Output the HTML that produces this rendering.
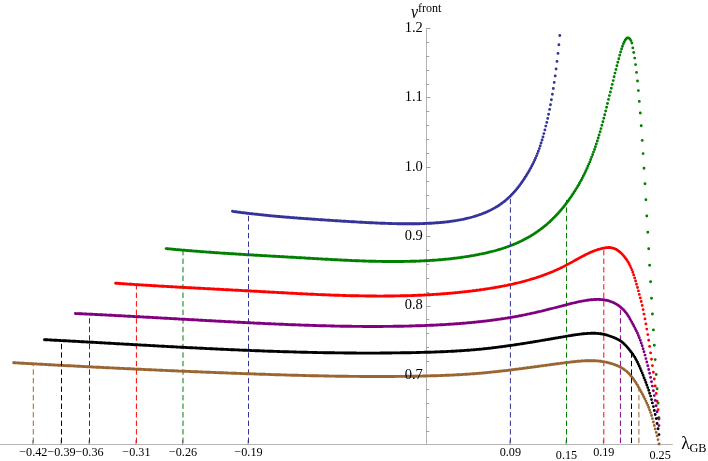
<!DOCTYPE html>
<html><head><meta charset="utf-8"><title>plot</title>
<style>
html,body{margin:0;padding:0;background:#fff;}
body{width:708px;height:461px;position:relative;overflow:hidden;font-family:"Liberation Serif",serif;color:#000;}
.t{position:absolute;white-space:nowrap;line-height:1;font-family:"Liberation Serif",serif;}
</style></head><body>
<svg width="708" height="461" viewBox="0 0 708 461" style="position:absolute;left:0;top:0">
<g stroke="#b4b4b4" stroke-width="1" fill="none" shape-rendering="auto">
<path d="M0 444.5H672.8"/>
<path d="M426.5 28V444.5"/>
<path d="M426 431.5h3.1M426 417.5h3.1M426 403.5h3.1M426 389.5h3.1M426 375.5h4.6M426 361.5h3.1M426 347.5h3.1M426 333.5h3.1M426 319.5h3.1M426 306.5h4.6M426 292.5h3.1M426 278.5h3.1M426 264.5h3.1M426 250.5h3.1M426 236.5h4.6M426 222.5h3.1M426 208.5h3.1M426 195.5h3.1M426 181.5h3.1M426 167.5h4.6M426 153.5h3.1M426 139.5h3.1M426 125.5h3.1M426 111.5h3.1M426 97.5h4.6M426 84.5h3.1M426 70.5h3.1M426 56.5h3.1M426 42.5h3.1M426 28.5h4.6" stroke="#a0a0a0"/>
</g>
<path d="M232.5 211.3h0M233.4 211.5h0M234.4 211.6h0M235.3 211.7h0M236.2 211.8h0M237.2 212.0h0M238.1 212.1h0M239.0 212.2h0M240.0 212.3h0M240.9 212.5h0M241.8 212.6h0M242.8 212.7h0M243.7 212.8h0M244.7 212.9h0M245.6 213.0h0M246.5 213.2h0M247.5 213.3h0M248.4 213.4h0M249.3 213.5h0M250.3 213.6h0M251.2 213.7h0M252.1 213.8h0M253.1 213.9h0M254.0 214.0h0M254.9 214.1h0M255.9 214.2h0M256.8 214.3h0M257.7 214.4h0M258.7 214.5h0M259.6 214.6h0M260.6 214.7h0M261.5 214.8h0M262.4 214.9h0M263.4 215.0h0M264.3 215.1h0M265.2 215.2h0M266.2 215.3h0M267.1 215.4h0M268.0 215.5h0M269.0 215.6h0M269.9 215.7h0M270.8 215.8h0M271.8 215.9h0M272.7 216.0h0M273.6 216.0h0M274.6 216.1h0M275.5 216.2h0M276.5 216.3h0M277.4 216.4h0M278.3 216.5h0M279.3 216.5h0M280.2 216.6h0M281.1 216.7h0M282.1 216.8h0M283.0 216.9h0M283.9 217.0h0M284.9 217.0h0M285.8 217.1h0M286.7 217.2h0M287.7 217.3h0M288.6 217.3h0M289.5 217.4h0M290.5 217.5h0M291.4 217.6h0M292.4 217.6h0M293.3 217.7h0M294.2 217.8h0M295.2 217.9h0M296.1 217.9h0M297.0 218.0h0M298.0 218.1h0M298.9 218.2h0M299.8 218.2h0M300.8 218.3h0M301.7 218.4h0M302.6 218.4h0M303.6 218.5h0M304.5 218.6h0M305.4 218.6h0M306.4 218.7h0M307.3 218.8h0M308.3 218.8h0M309.2 218.9h0M310.1 219.0h0M311.1 219.0h0M312.0 219.1h0M312.9 219.2h0M313.9 219.2h0M314.8 219.3h0M315.7 219.4h0M316.7 219.4h0M317.6 219.5h0M318.5 219.6h0M319.5 219.6h0M320.4 219.7h0M321.3 219.8h0M322.3 219.8h0M323.2 219.9h0M324.2 219.9h0M325.1 220.0h0M326.0 220.1h0M327.0 220.1h0M327.9 220.2h0M328.8 220.3h0M329.8 220.3h0M330.7 220.4h0M331.6 220.4h0M332.6 220.5h0M333.5 220.6h0M334.4 220.6h0M335.4 220.7h0M336.3 220.7h0M337.2 220.8h0M338.2 220.9h0M339.1 220.9h0M340.1 221.0h0M341.0 221.0h0M341.9 221.1h0M342.9 221.2h0M343.8 221.2h0M344.7 221.3h0M345.7 221.3h0M346.6 221.4h0M347.5 221.4h0M348.5 221.5h0M349.4 221.6h0M350.3 221.6h0M351.3 221.7h0M352.2 221.7h0M353.1 221.8h0M354.1 221.8h0M355.0 221.9h0M356.0 221.9h0M356.9 222.0h0M357.8 222.1h0M358.8 222.1h0M359.7 222.2h0M360.6 222.2h0M361.6 222.3h0M362.5 222.3h0M363.4 222.4h0M364.4 222.4h0M365.3 222.5h0M366.2 222.5h0M367.2 222.6h0M368.1 222.6h0M369.0 222.7h0M370.0 222.7h0M370.9 222.7h0M371.9 222.8h0M372.8 222.8h0M373.7 222.9h0M374.7 222.9h0M375.6 223.0h0M376.5 223.0h0M377.5 223.0h0M378.4 223.1h0M379.3 223.1h0M380.3 223.2h0M381.2 223.2h0M382.1 223.2h0M383.1 223.3h0M384.0 223.3h0M384.9 223.3h0M385.9 223.4h0M386.8 223.4h0M387.8 223.4h0M388.7 223.5h0M389.6 223.5h0M390.6 223.5h0M391.5 223.5h0M392.4 223.6h0M393.4 223.6h0M394.3 223.6h0M395.2 223.6h0M396.2 223.6h0M397.1 223.7h0M398.0 223.7h0M399.0 223.7h0M399.9 223.7h0M400.8 223.7h0M401.8 223.7h0M402.7 223.8h0M403.7 223.8h0M404.6 223.8h0M405.5 223.8h0M406.5 223.8h0M407.4 223.8h0M408.3 223.8h0M409.3 223.8h0M410.2 223.8h0M411.1 223.8h0M412.1 223.8h0M413.0 223.8h0M413.9 223.7h0M414.9 223.7h0M415.8 223.7h0M416.7 223.7h0M417.7 223.7h0M418.6 223.7h0M419.6 223.7h0M420.5 223.6h0M421.4 223.6h0M422.4 223.6h0M423.3 223.5h0M424.2 223.5h0M425.2 223.5h0M426.1 223.4h0M427.0 223.4h0M428.0 223.4h0M428.9 223.3h0M429.8 223.3h0M430.8 223.2h0M431.7 223.2h0M432.6 223.1h0M433.6 223.0h0M434.5 223.0h0M435.5 222.9h0M436.4 222.8h0M437.3 222.8h0M438.3 222.7h0M439.2 222.6h0M440.1 222.5h0M441.1 222.5h0M442.0 222.4h0M442.9 222.3h0M443.9 222.2h0M444.8 222.1h0M445.7 222.0h0M446.7 221.9h0M447.6 221.8h0M448.5 221.7h0M449.5 221.5h0M450.4 221.4h0M451.4 221.3h0M452.3 221.1h0M453.2 221.0h0M454.2 220.9h0M455.1 220.7h0M456.0 220.6h0M457.0 220.4h0M457.9 220.3h0M458.8 220.1h0M459.8 219.9h0M460.7 219.7h0M461.6 219.6h0M462.6 219.4h0M463.5 219.2h0M464.4 219.0h0M465.4 218.8h0M466.3 218.6h0M467.3 218.3h0M468.2 218.1h0M469.1 217.9h0M470.1 217.6h0M471.0 217.4h0M471.9 217.1h0M472.9 216.9h0M473.8 216.6h0M474.7 216.3h0M475.7 216.0h0M476.6 215.7h0M477.5 215.4h0M478.5 215.1h0M479.4 214.8h0M480.3 214.5h0M481.3 214.1h0M482.2 213.8h0M483.2 213.4h0M484.1 213.0h0M485.0 212.7h0M486.0 212.3h0M486.9 211.9h0M487.8 211.4h0M488.8 211.0h0M489.7 210.6h0M490.6 210.1h0M491.6 209.6h0M492.5 209.1h0M493.4 208.6h0M494.4 208.1h0M495.3 207.6h0M496.2 207.0h0M497.2 206.5h0M498.1 205.9h0M499.1 205.3h0M500.0 204.6h0M500.9 204.0h0M501.9 203.3h0M502.8 202.6h0M503.7 201.9h0M504.7 201.2h0M505.6 200.4h0M506.5 199.6h0M507.5 198.8h0M508.4 197.9h0M509.3 197.1h0M510.3 196.2h0M511.2 195.2h0M512.1 194.3h0M513.1 193.3h0M514.0 192.2h0M515.0 191.2h0M515.9 190.1h0M516.8 189.0h0M517.8 187.8h0M518.7 186.6h0M519.6 185.4h0M520.6 184.1h0M521.5 182.8h0M522.4 181.5h0M523.4 180.1h0M524.3 178.7h0M525.2 177.3h0M526.2 175.8h0M527.1 174.3h0M528.0 172.8h0M529.0 171.2h0M529.9 169.5h0M530.9 167.8h0M531.8 166.0h0M532.7 164.2h0M533.7 162.3h0M534.6 160.3h0M535.5 158.2h0M536.5 155.9h0M537.4 153.6h0M538.3 151.2h0M539.3 148.6h0M540.2 145.9h0M541.1 143.0h0M542.1 140.0h0M543.0 136.9h0M543.9 133.6h0M544.9 129.9h0M545.8 126.1h0M546.8 122.4h0M547.7 118.4h0M548.6 114.2h0M549.6 109.4h0M550.5 104.7h0M551.4 99.7h0M552.4 94.3h0M553.3 88.5h0M554.2 82.4h0M555.2 75.9h0M556.1 69.0h0M557.0 61.4h0M558.0 53.4h0M558.9 44.7h0M559.8 35.5h0" stroke="#333399" stroke-width="2.9" stroke-linecap="round" fill="none"/>
<path d="M166.1 248.6h0M167.0 248.7h0M168.0 248.8h0M168.9 248.9h0M169.8 248.9h0M170.8 249.0h0M171.7 249.1h0M172.6 249.2h0M173.6 249.3h0M174.5 249.4h0M175.4 249.5h0M176.4 249.6h0M177.3 249.6h0M178.2 249.7h0M179.2 249.8h0M180.1 249.9h0M181.1 250.0h0M182.0 250.1h0M182.9 250.1h0M183.9 250.2h0M184.8 250.3h0M185.7 250.4h0M186.7 250.5h0M187.6 250.5h0M188.5 250.6h0M189.5 250.7h0M190.4 250.8h0M191.3 250.8h0M192.3 250.9h0M193.2 251.0h0M194.1 251.1h0M195.1 251.1h0M196.0 251.2h0M197.0 251.3h0M197.9 251.4h0M198.8 251.4h0M199.8 251.5h0M200.7 251.6h0M201.6 251.7h0M202.6 251.7h0M203.5 251.8h0M204.4 251.9h0M205.4 251.9h0M206.3 252.0h0M207.2 252.1h0M208.2 252.1h0M209.1 252.2h0M210.0 252.3h0M211.0 252.3h0M211.9 252.4h0M212.9 252.5h0M213.8 252.5h0M214.7 252.6h0M215.7 252.7h0M216.6 252.7h0M217.5 252.8h0M218.5 252.9h0M219.4 252.9h0M220.3 253.0h0M221.3 253.1h0M222.2 253.1h0M223.1 253.2h0M224.1 253.2h0M225.0 253.3h0M225.9 253.4h0M226.9 253.4h0M227.8 253.5h0M228.8 253.5h0M229.7 253.6h0M230.6 253.7h0M231.6 253.7h0M232.5 253.8h0M233.4 253.8h0M234.4 253.9h0M235.3 254.0h0M236.2 254.0h0M237.2 254.1h0M238.1 254.1h0M239.0 254.2h0M240.0 254.3h0M240.9 254.3h0M241.8 254.4h0M242.8 254.4h0M243.7 254.5h0M244.7 254.5h0M245.6 254.6h0M246.5 254.7h0M247.5 254.7h0M248.4 254.8h0M249.3 254.8h0M250.3 254.9h0M251.2 254.9h0M252.1 255.0h0M253.1 255.0h0M254.0 255.1h0M254.9 255.2h0M255.9 255.2h0M256.8 255.3h0M257.7 255.3h0M258.7 255.4h0M259.6 255.4h0M260.6 255.5h0M261.5 255.5h0M262.4 255.6h0M263.4 255.6h0M264.3 255.7h0M265.2 255.7h0M266.2 255.8h0M267.1 255.9h0M268.0 255.9h0M269.0 256.0h0M269.9 256.0h0M270.8 256.1h0M271.8 256.1h0M272.7 256.2h0M273.6 256.2h0M274.6 256.3h0M275.5 256.3h0M276.5 256.4h0M277.4 256.4h0M278.3 256.5h0M279.3 256.5h0M280.2 256.6h0M281.1 256.6h0M282.1 256.7h0M283.0 256.8h0M283.9 256.8h0M284.9 256.9h0M285.8 256.9h0M286.7 257.0h0M287.7 257.0h0M288.6 257.1h0M289.5 257.1h0M290.5 257.2h0M291.4 257.2h0M292.4 257.3h0M293.3 257.3h0M294.2 257.4h0M295.2 257.4h0M296.1 257.5h0M297.0 257.6h0M298.0 257.6h0M298.9 257.7h0M299.8 257.7h0M300.8 257.8h0M301.7 257.8h0M302.6 257.9h0M303.6 257.9h0M304.5 258.0h0M305.4 258.0h0M306.4 258.1h0M307.3 258.2h0M308.3 258.2h0M309.2 258.3h0M310.1 258.3h0M311.1 258.4h0M312.0 258.4h0M312.9 258.5h0M313.9 258.5h0M314.8 258.6h0M315.7 258.6h0M316.7 258.7h0M317.6 258.8h0M318.5 258.8h0M319.5 258.9h0M320.4 258.9h0M321.3 259.0h0M322.3 259.0h0M323.2 259.1h0M324.2 259.1h0M325.1 259.2h0M326.0 259.2h0M327.0 259.3h0M327.9 259.3h0M328.8 259.4h0M329.8 259.4h0M330.7 259.5h0M331.6 259.5h0M332.6 259.6h0M333.5 259.6h0M334.4 259.7h0M335.4 259.7h0M336.3 259.8h0M337.2 259.8h0M338.2 259.9h0M339.1 259.9h0M340.1 260.0h0M341.0 260.0h0M341.9 260.1h0M342.9 260.1h0M343.8 260.2h0M344.7 260.2h0M345.7 260.3h0M346.6 260.3h0M347.5 260.3h0M348.5 260.4h0M349.4 260.4h0M350.3 260.5h0M351.3 260.5h0M352.2 260.6h0M353.1 260.6h0M354.1 260.6h0M355.0 260.7h0M356.0 260.7h0M356.9 260.7h0M357.8 260.8h0M358.8 260.8h0M359.7 260.9h0M360.6 260.9h0M361.6 260.9h0M362.5 261.0h0M363.4 261.0h0M364.4 261.0h0M365.3 261.0h0M366.2 261.1h0M367.2 261.1h0M368.1 261.1h0M369.0 261.2h0M370.0 261.2h0M370.9 261.2h0M371.9 261.2h0M372.8 261.3h0M373.7 261.3h0M374.7 261.3h0M375.6 261.3h0M376.5 261.4h0M377.5 261.4h0M378.4 261.4h0M379.3 261.4h0M380.3 261.4h0M381.2 261.4h0M382.1 261.5h0M383.1 261.5h0M384.0 261.5h0M384.9 261.5h0M385.9 261.5h0M386.8 261.5h0M387.8 261.5h0M388.7 261.5h0M389.6 261.5h0M390.6 261.5h0M391.5 261.5h0M392.4 261.5h0M393.4 261.5h0M394.3 261.5h0M395.2 261.5h0M396.2 261.5h0M397.1 261.5h0M398.0 261.5h0M399.0 261.5h0M399.9 261.5h0M400.8 261.5h0M401.8 261.5h0M402.7 261.5h0M403.7 261.5h0M404.6 261.4h0M405.5 261.4h0M406.5 261.4h0M407.4 261.4h0M408.3 261.4h0M409.3 261.4h0M410.2 261.3h0M411.1 261.3h0M412.1 261.3h0M413.0 261.3h0M413.9 261.2h0M414.9 261.2h0M415.8 261.2h0M416.7 261.1h0M417.7 261.1h0M418.6 261.1h0M419.6 261.0h0M420.5 261.0h0M421.4 260.9h0M422.4 260.9h0M423.3 260.9h0M424.2 260.8h0M425.2 260.8h0M426.1 260.7h0M427.0 260.7h0M428.0 260.6h0M428.9 260.6h0M429.8 260.5h0M430.8 260.4h0M431.7 260.4h0M432.6 260.3h0M433.6 260.3h0M434.5 260.2h0M435.5 260.1h0M436.4 260.1h0M437.3 260.0h0M438.3 259.9h0M439.2 259.8h0M440.1 259.8h0M441.1 259.7h0M442.0 259.6h0M442.9 259.5h0M443.9 259.4h0M444.8 259.3h0M445.7 259.2h0M446.7 259.1h0M447.6 259.1h0M448.5 259.0h0M449.5 258.9h0M450.4 258.8h0M451.4 258.7h0M452.3 258.5h0M453.2 258.4h0M454.2 258.3h0M455.1 258.2h0M456.0 258.1h0M457.0 258.0h0M457.9 257.9h0M458.8 257.7h0M459.8 257.6h0M460.7 257.5h0M461.6 257.3h0M462.6 257.2h0M463.5 257.1h0M464.4 256.9h0M465.4 256.8h0M466.3 256.6h0M467.3 256.5h0M468.2 256.4h0M469.1 256.2h0M470.1 256.0h0M471.0 255.9h0M471.9 255.7h0M472.9 255.6h0M473.8 255.4h0M474.7 255.2h0M475.7 255.0h0M476.6 254.9h0M477.5 254.7h0M478.5 254.5h0M479.4 254.3h0M480.3 254.1h0M481.3 253.9h0M482.2 253.8h0M483.2 253.6h0M484.1 253.4h0M485.0 253.2h0M486.0 252.9h0M486.9 252.7h0M487.8 252.5h0M488.8 252.3h0M489.7 252.1h0M490.6 251.8h0M491.6 251.6h0M492.5 251.4h0M493.4 251.1h0M494.4 250.9h0M495.3 250.6h0M496.2 250.4h0M497.2 250.1h0M498.1 249.8h0M499.1 249.6h0M500.0 249.3h0M500.9 249.0h0M501.9 248.7h0M502.8 248.4h0M503.7 248.1h0M504.7 247.8h0M505.6 247.5h0M506.5 247.1h0M507.5 246.8h0M508.4 246.5h0M509.3 246.1h0M510.3 245.8h0M511.2 245.4h0M512.1 245.0h0M513.1 244.7h0M514.0 244.3h0M515.0 243.9h0M515.9 243.5h0M516.8 243.1h0M517.8 242.7h0M518.7 242.2h0M519.6 241.8h0M520.6 241.4h0M521.5 240.9h0M522.4 240.5h0M523.4 240.0h0M524.3 239.5h0M525.2 239.0h0M526.2 238.5h0M527.1 238.0h0M528.0 237.5h0M529.0 237.0h0M529.9 236.4h0M530.9 235.9h0M531.8 235.3h0M532.7 234.7h0M533.7 234.1h0M534.6 233.5h0M535.5 232.9h0M536.5 232.3h0M537.4 231.6h0M538.3 231.0h0M539.3 230.3h0M540.2 229.6h0M541.1 228.9h0M542.1 228.2h0M543.0 227.5h0M543.9 226.7h0M544.9 226.0h0M545.8 225.2h0M546.8 224.4h0M547.7 223.6h0M548.6 222.8h0M549.6 221.9h0M550.5 221.0h0M551.4 220.2h0M552.4 219.3h0M553.3 218.3h0M554.2 217.4h0M555.2 216.4h0M556.1 215.5h0M557.0 214.5h0M558.0 213.5h0M558.9 212.4h0M559.8 211.4h0M560.8 210.3h0M561.7 209.2h0M562.7 208.0h0M563.6 206.9h0M564.5 205.7h0M565.5 204.5h0M566.4 203.3h0M567.3 202.0h0M568.3 200.8h0M569.2 199.5h0M570.1 198.1h0M571.1 196.8h0M572.0 195.4h0M572.9 194.0h0M573.9 192.5h0M574.8 191.1h0M575.7 189.6h0M576.7 188.1h0M577.6 186.5h0M578.6 184.9h0M579.5 183.3h0M580.4 181.6h0M581.4 179.9h0M582.3 178.1h0M583.2 176.3h0M584.2 174.4h0M585.1 172.5h0M586.0 170.5h0M587.0 168.4h0M587.9 166.3h0M588.8 164.1h0M589.8 161.9h0M590.7 159.5h0M591.6 157.1h0M592.6 154.7h0M593.5 152.1h0M594.5 149.5h0M595.4 146.7h0M596.3 143.9h0M597.3 141.0h0M598.2 138.0h0M599.1 135.0h0M600.1 131.8h0M601.0 128.6h0M601.9 125.2h0M602.9 121.8h0M603.8 118.3h0M604.7 114.7h0M605.7 111.0h0M606.6 107.3h0M607.5 103.5h0M608.5 99.4h0M609.4 95.6h0M610.4 92.0h0M611.3 88.2h0M612.2 84.4h0M613.2 80.6h0M614.1 76.8h0M615.0 73.1h0M616.0 69.5h0M616.9 65.8h0M617.8 62.2h0M618.8 58.7h0M619.7 55.2h0M620.6 52.0h0M621.6 49.0h0M622.5 46.2h0M623.4 43.8h0M624.4 41.7h0M625.3 40.0h0M626.3 38.8h0M627.2 38.0h0M628.1 37.9h0M629.1 38.2h0M630.0 39.1h0M630.9 40.6h0M631.9 43.0h0M632.8 47.9h0M633.7 52.5h0M634.7 58.1h0M635.6 64.6h0M636.5 72.4h0M637.5 81.0h0M638.4 90.6h0M639.3 101.4h0M640.3 113.0h0M641.2 125.8h0M642.2 140.4h0M643.1 153.6h0M644.0 168.3h0M645.0 183.7h0M645.9 199.7h0M646.8 216.0h0M647.8 232.3h0M648.7 248.8h0M649.6 265.2h0M650.6 281.7h0M651.5 298.2h0M652.4 314.0h0M653.4 329.9h0M654.3 345.2h0M655.2 359.6h0M656.2 374.5h0M657.1 388.7h0M658.1 403.1h0M659.0 417.8h0" stroke="#008000" stroke-width="2.9" stroke-linecap="round" fill="none"/>
<path d="M248.50 443.05V213.4" stroke="#333399" stroke-width="1.0" stroke-dasharray="5.4 3.13" fill="none"/><path d="M510.40 443.05V196.1" stroke="#333399" stroke-width="1.0" stroke-dasharray="5.4 3.13" fill="none"/>
<path d="M115.6 283.2h0M116.5 283.3h0M117.5 283.3h0M118.4 283.4h0M119.3 283.5h0M120.3 283.5h0M121.2 283.6h0M122.1 283.7h0M123.1 283.7h0M124.0 283.8h0M124.9 283.9h0M125.9 283.9h0M126.8 284.0h0M127.7 284.1h0M128.7 284.1h0M129.6 284.2h0M130.5 284.2h0M131.5 284.3h0M132.4 284.4h0M133.4 284.4h0M134.3 284.5h0M135.2 284.6h0M136.2 284.6h0M137.1 284.7h0M138.0 284.7h0M139.0 284.8h0M139.9 284.9h0M140.8 284.9h0M141.8 285.0h0M142.7 285.0h0M143.6 285.1h0M144.6 285.1h0M145.5 285.2h0M146.4 285.3h0M147.4 285.3h0M148.3 285.4h0M149.3 285.4h0M150.2 285.5h0M151.1 285.5h0M152.1 285.6h0M153.0 285.7h0M153.9 285.7h0M154.9 285.8h0M155.8 285.8h0M156.7 285.9h0M157.7 285.9h0M158.6 286.0h0M159.5 286.1h0M160.5 286.1h0M161.4 286.2h0M162.3 286.2h0M163.3 286.3h0M164.2 286.3h0M165.2 286.4h0M166.1 286.4h0M167.0 286.5h0M168.0 286.5h0M168.9 286.6h0M169.8 286.6h0M170.8 286.7h0M171.7 286.8h0M172.6 286.8h0M173.6 286.9h0M174.5 286.9h0M175.4 287.0h0M176.4 287.0h0M177.3 287.1h0M178.2 287.1h0M179.2 287.2h0M180.1 287.2h0M181.1 287.3h0M182.0 287.3h0M182.9 287.4h0M183.9 287.4h0M184.8 287.5h0M185.7 287.5h0M186.7 287.6h0M187.6 287.6h0M188.5 287.7h0M189.5 287.7h0M190.4 287.8h0M191.3 287.8h0M192.3 287.9h0M193.2 287.9h0M194.1 288.0h0M195.1 288.0h0M196.0 288.1h0M197.0 288.1h0M197.9 288.2h0M198.8 288.2h0M199.8 288.3h0M200.7 288.3h0M201.6 288.4h0M202.6 288.4h0M203.5 288.5h0M204.4 288.5h0M205.4 288.6h0M206.3 288.6h0M207.2 288.7h0M208.2 288.7h0M209.1 288.8h0M210.0 288.8h0M211.0 288.9h0M211.9 288.9h0M212.9 289.0h0M213.8 289.0h0M214.7 289.1h0M215.7 289.1h0M216.6 289.2h0M217.5 289.2h0M218.5 289.3h0M219.4 289.3h0M220.3 289.4h0M221.3 289.4h0M222.2 289.5h0M223.1 289.5h0M224.1 289.6h0M225.0 289.6h0M225.9 289.7h0M226.9 289.7h0M227.8 289.8h0M228.8 289.8h0M229.7 289.9h0M230.6 289.9h0M231.6 290.0h0M232.5 290.0h0M233.4 290.1h0M234.4 290.1h0M235.3 290.2h0M236.2 290.2h0M237.2 290.3h0M238.1 290.3h0M239.0 290.4h0M240.0 290.4h0M240.9 290.5h0M241.8 290.5h0M242.8 290.6h0M243.7 290.6h0M244.7 290.7h0M245.6 290.7h0M246.5 290.8h0M247.5 290.8h0M248.4 290.9h0M249.3 290.9h0M250.3 291.0h0M251.2 291.0h0M252.1 291.1h0M253.1 291.1h0M254.0 291.2h0M254.9 291.2h0M255.9 291.3h0M256.8 291.3h0M257.7 291.4h0M258.7 291.4h0M259.6 291.5h0M260.6 291.5h0M261.5 291.6h0M262.4 291.7h0M263.4 291.7h0M264.3 291.8h0M265.2 291.8h0M266.2 291.9h0M267.1 291.9h0M268.0 292.0h0M269.0 292.0h0M269.9 292.1h0M270.8 292.1h0M271.8 292.2h0M272.7 292.2h0M273.6 292.3h0M274.6 292.3h0M275.5 292.4h0M276.5 292.4h0M277.4 292.5h0M278.3 292.5h0M279.3 292.6h0M280.2 292.6h0M281.1 292.7h0M282.1 292.7h0M283.0 292.8h0M283.9 292.8h0M284.9 292.9h0M285.8 292.9h0M286.7 293.0h0M287.7 293.0h0M288.6 293.1h0M289.5 293.1h0M290.5 293.2h0M291.4 293.2h0M292.4 293.3h0M293.3 293.3h0M294.2 293.4h0M295.2 293.4h0M296.1 293.5h0M297.0 293.5h0M298.0 293.6h0M298.9 293.6h0M299.8 293.7h0M300.8 293.7h0M301.7 293.8h0M302.6 293.8h0M303.6 293.9h0M304.5 293.9h0M305.4 293.9h0M306.4 294.0h0M307.3 294.0h0M308.3 294.1h0M309.2 294.1h0M310.1 294.2h0M311.1 294.2h0M312.0 294.3h0M312.9 294.3h0M313.9 294.3h0M314.8 294.4h0M315.7 294.4h0M316.7 294.5h0M317.6 294.5h0M318.5 294.6h0M319.5 294.6h0M320.4 294.6h0M321.3 294.7h0M322.3 294.7h0M323.2 294.7h0M324.2 294.8h0M325.1 294.8h0M326.0 294.9h0M327.0 294.9h0M327.9 294.9h0M328.8 295.0h0M329.8 295.0h0M330.7 295.0h0M331.6 295.1h0M332.6 295.1h0M333.5 295.1h0M334.4 295.2h0M335.4 295.2h0M336.3 295.2h0M337.2 295.3h0M338.2 295.3h0M339.1 295.3h0M340.1 295.4h0M341.0 295.4h0M341.9 295.4h0M342.9 295.5h0M343.8 295.5h0M344.7 295.5h0M345.7 295.5h0M346.6 295.6h0M347.5 295.6h0M348.5 295.6h0M349.4 295.6h0M350.3 295.7h0M351.3 295.7h0M352.2 295.7h0M353.1 295.7h0M354.1 295.7h0M355.0 295.8h0M356.0 295.8h0M356.9 295.8h0M357.8 295.8h0M358.8 295.8h0M359.7 295.9h0M360.6 295.9h0M361.6 295.9h0M362.5 295.9h0M363.4 295.9h0M364.4 295.9h0M365.3 296.0h0M366.2 296.0h0M367.2 296.0h0M368.1 296.0h0M369.0 296.0h0M370.0 296.0h0M370.9 296.0h0M371.9 296.0h0M372.8 296.0h0M373.7 296.0h0M374.7 296.0h0M375.6 296.0h0M376.5 296.0h0M377.5 296.1h0M378.4 296.1h0M379.3 296.1h0M380.3 296.1h0M381.2 296.1h0M382.1 296.1h0M383.1 296.1h0M384.0 296.0h0M384.9 296.0h0M385.9 296.0h0M386.8 296.0h0M387.8 296.0h0M388.7 296.0h0M389.6 296.0h0M390.6 296.0h0M391.5 296.0h0M392.4 296.0h0M393.4 296.0h0M394.3 296.0h0M395.2 295.9h0M396.2 295.9h0M397.1 295.9h0M398.0 295.9h0M399.0 295.9h0M399.9 295.9h0M400.8 295.8h0M401.8 295.8h0M402.7 295.8h0M403.7 295.8h0M404.6 295.8h0M405.5 295.7h0M406.5 295.7h0M407.4 295.7h0M408.3 295.6h0M409.3 295.6h0M410.2 295.6h0M411.1 295.6h0M412.1 295.5h0M413.0 295.5h0M413.9 295.5h0M414.9 295.4h0M415.8 295.4h0M416.7 295.4h0M417.7 295.3h0M418.6 295.3h0M419.6 295.2h0M420.5 295.2h0M421.4 295.2h0M422.4 295.1h0M423.3 295.1h0M424.2 295.0h0M425.2 295.0h0M426.1 294.9h0M427.0 294.9h0M428.0 294.8h0M428.9 294.8h0M429.8 294.7h0M430.8 294.7h0M431.7 294.6h0M432.6 294.5h0M433.6 294.5h0M434.5 294.4h0M435.5 294.4h0M436.4 294.3h0M437.3 294.2h0M438.3 294.2h0M439.2 294.1h0M440.1 294.0h0M441.1 294.0h0M442.0 293.9h0M442.9 293.8h0M443.9 293.8h0M444.8 293.7h0M445.7 293.6h0M446.7 293.5h0M447.6 293.5h0M448.5 293.4h0M449.5 293.3h0M450.4 293.2h0M451.4 293.1h0M452.3 293.1h0M453.2 293.0h0M454.2 292.9h0M455.1 292.8h0M456.0 292.7h0M457.0 292.6h0M457.9 292.5h0M458.8 292.4h0M459.8 292.3h0M460.7 292.2h0M461.6 292.1h0M462.6 292.0h0M463.5 291.9h0M464.4 291.8h0M465.4 291.7h0M466.3 291.6h0M467.3 291.5h0M468.2 291.4h0M469.1 291.3h0M470.1 291.2h0M471.0 291.1h0M471.9 290.9h0M472.9 290.8h0M473.8 290.7h0M474.7 290.6h0M475.7 290.5h0M476.6 290.3h0M477.5 290.2h0M478.5 290.1h0M479.4 290.0h0M480.3 289.8h0M481.3 289.7h0M482.2 289.6h0M483.2 289.4h0M484.1 289.3h0M485.0 289.2h0M486.0 289.0h0M486.9 288.9h0M487.8 288.7h0M488.8 288.6h0M489.7 288.4h0M490.6 288.3h0M491.6 288.1h0M492.5 288.0h0M493.4 287.8h0M494.4 287.7h0M495.3 287.5h0M496.2 287.3h0M497.2 287.2h0M498.1 287.0h0M499.1 286.8h0M500.0 286.7h0M500.9 286.5h0M501.9 286.3h0M502.8 286.1h0M503.7 285.9h0M504.7 285.8h0M505.6 285.6h0M506.5 285.4h0M507.5 285.2h0M508.4 285.0h0M509.3 284.8h0M510.3 284.6h0M511.2 284.4h0M512.1 284.2h0M513.1 284.0h0M514.0 283.8h0M515.0 283.5h0M515.9 283.3h0M516.8 283.1h0M517.8 282.9h0M518.7 282.6h0M519.6 282.4h0M520.6 282.2h0M521.5 281.9h0M522.4 281.7h0M523.4 281.4h0M524.3 281.2h0M525.2 280.9h0M526.2 280.7h0M527.1 280.4h0M528.0 280.1h0M529.0 279.9h0M529.9 279.6h0M530.9 279.3h0M531.8 279.1h0M532.7 278.8h0M533.7 278.5h0M534.6 278.2h0M535.5 277.9h0M536.5 277.6h0M537.4 277.3h0M538.3 277.0h0M539.3 276.7h0M540.2 276.4h0M541.1 276.0h0M542.1 275.7h0M543.0 275.4h0M543.9 275.0h0M544.9 274.7h0M545.8 274.3h0M546.8 274.0h0M547.7 273.6h0M548.6 273.3h0M549.6 272.9h0M550.5 272.5h0M551.4 272.1h0M552.4 271.7h0M553.3 271.4h0M554.2 270.9h0M555.2 270.5h0M556.1 270.1h0M557.0 269.7h0M558.0 269.3h0M558.9 268.9h0M559.8 268.4h0M560.8 268.0h0M561.7 267.5h0M562.7 267.1h0M563.6 266.6h0M564.5 266.1h0M565.5 265.6h0M566.4 265.1h0M567.3 264.6h0M568.3 264.1h0M569.2 263.6h0M570.1 263.1h0M571.1 262.6h0M572.0 262.1h0M572.9 261.6h0M573.9 261.1h0M574.8 260.5h0M575.7 260.0h0M576.7 259.5h0M577.6 259.0h0M578.6 258.5h0M579.5 257.9h0M580.4 257.4h0M581.4 256.9h0M582.3 256.4h0M583.2 255.9h0M584.2 255.5h0M585.1 255.0h0M586.0 254.5h0M587.0 254.1h0M587.9 253.6h0M588.8 253.2h0M589.8 252.7h0M590.7 252.3h0M591.6 251.9h0M592.6 251.5h0M593.5 251.1h0M594.5 250.8h0M595.4 250.4h0M596.3 250.1h0M597.3 249.8h0M598.2 249.5h0M599.1 249.2h0M600.1 248.9h0M601.0 248.7h0M601.9 248.4h0M602.9 248.2h0M603.8 248.1h0M604.7 247.9h0M605.7 247.8h0M606.6 247.6h0M607.5 247.6h0M608.5 247.5h0M609.4 247.5h0M610.4 247.6h0M611.3 247.7h0M612.2 247.9h0M613.2 248.2h0M614.1 248.5h0M615.0 248.9h0M616.0 249.3h0M616.9 249.9h0M617.8 250.5h0M618.8 251.2h0M619.7 251.9h0M620.6 252.7h0M621.6 253.6h0M622.5 254.6h0M623.4 255.6h0M624.4 256.7h0M625.3 257.9h0M626.3 259.2h0M627.2 260.6h0M628.1 262.1h0M629.1 263.8h0M630.0 265.6h0M630.9 267.6h0M631.9 269.8h0M632.8 272.3h0M633.7 274.9h0M634.7 277.9h0M635.6 281.0h0M636.5 284.3h0M637.5 287.5h0M638.4 290.9h0M639.3 294.4h0M640.3 297.9h0M641.2 301.5h0M642.2 305.4h0M643.1 309.6h0M644.0 314.1h0M645.0 318.9h0M645.9 323.9h0M646.8 329.1h0M647.8 334.6h0M648.7 340.3h0M649.6 346.4h0M650.6 352.9h0M651.5 359.2h0M652.4 365.6h0M653.4 372.2h0M654.3 379.0h0M655.2 386.0h0M656.2 393.5h0M657.1 401.2h0M658.1 409.6h0M659.0 419.1h0" stroke="#ff0000" stroke-width="2.9" stroke-linecap="round" fill="none"/>
<path d="M183.00 443.05V250.1" stroke="#008000" stroke-width="1.0" stroke-dasharray="5.4 3.13" fill="none"/><path d="M566.50 443.05V200.0" stroke="#008000" stroke-width="1.0" stroke-dasharray="5.4 3.13" fill="none"/>
<path d="M136.40 443.05V284.6" stroke="#ff0000" stroke-width="1.0" stroke-dasharray="5.4 3.13" fill="none"/><path d="M603.80 443.05V248.1" stroke="#ff0000" stroke-width="1.0" stroke-dasharray="5.4 3.13" fill="none"/>
<path d="M75.4 313.5h0M76.3 313.6h0M77.2 313.6h0M78.2 313.6h0M79.1 313.7h0M80.0 313.7h0M81.0 313.8h0M81.9 313.8h0M82.8 313.9h0M83.8 313.9h0M84.7 314.0h0M85.7 314.0h0M86.6 314.0h0M87.5 314.1h0M88.5 314.1h0M89.4 314.2h0M90.3 314.2h0M91.3 314.3h0M92.2 314.3h0M93.1 314.4h0M94.1 314.4h0M95.0 314.5h0M95.9 314.5h0M96.9 314.5h0M97.8 314.6h0M98.7 314.6h0M99.7 314.7h0M100.6 314.7h0M101.6 314.8h0M102.5 314.8h0M103.4 314.9h0M104.4 314.9h0M105.3 315.0h0M106.2 315.0h0M107.2 315.1h0M108.1 315.1h0M109.0 315.2h0M110.0 315.2h0M110.9 315.3h0M111.8 315.3h0M112.8 315.4h0M113.7 315.4h0M114.6 315.5h0M115.6 315.5h0M116.5 315.6h0M117.5 315.6h0M118.4 315.7h0M119.3 315.7h0M120.3 315.8h0M121.2 315.8h0M122.1 315.9h0M123.1 315.9h0M124.0 316.0h0M124.9 316.0h0M125.9 316.1h0M126.8 316.1h0M127.7 316.2h0M128.7 316.2h0M129.6 316.3h0M130.5 316.3h0M131.5 316.4h0M132.4 316.4h0M133.4 316.5h0M134.3 316.5h0M135.2 316.6h0M136.2 316.6h0M137.1 316.7h0M138.0 316.7h0M139.0 316.8h0M139.9 316.8h0M140.8 316.9h0M141.8 316.9h0M142.7 317.0h0M143.6 317.0h0M144.6 317.1h0M145.5 317.1h0M146.4 317.2h0M147.4 317.2h0M148.3 317.3h0M149.3 317.3h0M150.2 317.4h0M151.1 317.4h0M152.1 317.5h0M153.0 317.5h0M153.9 317.6h0M154.9 317.6h0M155.8 317.7h0M156.7 317.7h0M157.7 317.8h0M158.6 317.9h0M159.5 317.9h0M160.5 318.0h0M161.4 318.0h0M162.3 318.1h0M163.3 318.1h0M164.2 318.2h0M165.2 318.2h0M166.1 318.3h0M167.0 318.3h0M168.0 318.4h0M168.9 318.4h0M169.8 318.5h0M170.8 318.5h0M171.7 318.6h0M172.6 318.6h0M173.6 318.7h0M174.5 318.7h0M175.4 318.8h0M176.4 318.8h0M177.3 318.9h0M178.2 319.0h0M179.2 319.0h0M180.1 319.1h0M181.1 319.1h0M182.0 319.2h0M182.9 319.2h0M183.9 319.3h0M184.8 319.3h0M185.7 319.4h0M186.7 319.4h0M187.6 319.5h0M188.5 319.5h0M189.5 319.6h0M190.4 319.6h0M191.3 319.7h0M192.3 319.7h0M193.2 319.8h0M194.1 319.8h0M195.1 319.9h0M196.0 319.9h0M197.0 320.0h0M197.9 320.0h0M198.8 320.1h0M199.8 320.2h0M200.7 320.2h0M201.6 320.3h0M202.6 320.3h0M203.5 320.4h0M204.4 320.4h0M205.4 320.5h0M206.3 320.5h0M207.2 320.6h0M208.2 320.6h0M209.1 320.7h0M210.0 320.7h0M211.0 320.8h0M211.9 320.8h0M212.9 320.9h0M213.8 320.9h0M214.7 321.0h0M215.7 321.0h0M216.6 321.1h0M217.5 321.1h0M218.5 321.2h0M219.4 321.2h0M220.3 321.3h0M221.3 321.3h0M222.2 321.4h0M223.1 321.4h0M224.1 321.5h0M225.0 321.5h0M225.9 321.6h0M226.9 321.6h0M227.8 321.7h0M228.8 321.7h0M229.7 321.8h0M230.6 321.8h0M231.6 321.9h0M232.5 321.9h0M233.4 322.0h0M234.4 322.0h0M235.3 322.1h0M236.2 322.1h0M237.2 322.2h0M238.1 322.2h0M239.0 322.3h0M240.0 322.3h0M240.9 322.4h0M241.8 322.4h0M242.8 322.5h0M243.7 322.5h0M244.7 322.5h0M245.6 322.6h0M246.5 322.6h0M247.5 322.7h0M248.4 322.7h0M249.3 322.8h0M250.3 322.8h0M251.2 322.9h0M252.1 322.9h0M253.1 323.0h0M254.0 323.0h0M254.9 323.1h0M255.9 323.1h0M256.8 323.2h0M257.7 323.2h0M258.7 323.2h0M259.6 323.3h0M260.6 323.3h0M261.5 323.4h0M262.4 323.4h0M263.4 323.5h0M264.3 323.5h0M265.2 323.6h0M266.2 323.6h0M267.1 323.6h0M268.0 323.7h0M269.0 323.7h0M269.9 323.8h0M270.8 323.8h0M271.8 323.9h0M272.7 323.9h0M273.6 323.9h0M274.6 324.0h0M275.5 324.0h0M276.5 324.1h0M277.4 324.1h0M278.3 324.1h0M279.3 324.2h0M280.2 324.2h0M281.1 324.3h0M282.1 324.3h0M283.0 324.3h0M283.9 324.4h0M284.9 324.4h0M285.8 324.5h0M286.7 324.5h0M287.7 324.5h0M288.6 324.6h0M289.5 324.6h0M290.5 324.7h0M291.4 324.7h0M292.4 324.7h0M293.3 324.8h0M294.2 324.8h0M295.2 324.8h0M296.1 324.9h0M297.0 324.9h0M298.0 324.9h0M298.9 325.0h0M299.8 325.0h0M300.8 325.0h0M301.7 325.1h0M302.6 325.1h0M303.6 325.1h0M304.5 325.2h0M305.4 325.2h0M306.4 325.2h0M307.3 325.3h0M308.3 325.3h0M309.2 325.3h0M310.1 325.4h0M311.1 325.4h0M312.0 325.4h0M312.9 325.5h0M313.9 325.5h0M314.8 325.5h0M315.7 325.5h0M316.7 325.6h0M317.6 325.6h0M318.5 325.6h0M319.5 325.7h0M320.4 325.7h0M321.3 325.7h0M322.3 325.7h0M323.2 325.8h0M324.2 325.8h0M325.1 325.8h0M326.0 325.8h0M327.0 325.9h0M327.9 325.9h0M328.8 325.9h0M329.8 325.9h0M330.7 326.0h0M331.6 326.0h0M332.6 326.0h0M333.5 326.0h0M334.4 326.0h0M335.4 326.1h0M336.3 326.1h0M337.2 326.1h0M338.2 326.1h0M339.1 326.1h0M340.1 326.2h0M341.0 326.2h0M341.9 326.2h0M342.9 326.2h0M343.8 326.2h0M344.7 326.2h0M345.7 326.3h0M346.6 326.3h0M347.5 326.3h0M348.5 326.3h0M349.4 326.3h0M350.3 326.3h0M351.3 326.3h0M352.2 326.4h0M353.1 326.4h0M354.1 326.4h0M355.0 326.4h0M356.0 326.4h0M356.9 326.4h0M357.8 326.4h0M358.8 326.4h0M359.7 326.4h0M360.6 326.4h0M361.6 326.4h0M362.5 326.5h0M363.4 326.5h0M364.4 326.5h0M365.3 326.5h0M366.2 326.5h0M367.2 326.5h0M368.1 326.5h0M369.0 326.5h0M370.0 326.5h0M370.9 326.5h0M371.9 326.5h0M372.8 326.5h0M373.7 326.5h0M374.7 326.5h0M375.6 326.5h0M376.5 326.5h0M377.5 326.5h0M378.4 326.5h0M379.3 326.5h0M380.3 326.5h0M381.2 326.5h0M382.1 326.5h0M383.1 326.5h0M384.0 326.4h0M384.9 326.4h0M385.9 326.4h0M386.8 326.4h0M387.8 326.4h0M388.7 326.4h0M389.6 326.4h0M390.6 326.4h0M391.5 326.4h0M392.4 326.4h0M393.4 326.3h0M394.3 326.3h0M395.2 326.3h0M396.2 326.3h0M397.1 326.3h0M398.0 326.3h0M399.0 326.3h0M399.9 326.2h0M400.8 326.2h0M401.8 326.2h0M402.7 326.2h0M403.7 326.2h0M404.6 326.1h0M405.5 326.1h0M406.5 326.1h0M407.4 326.1h0M408.3 326.1h0M409.3 326.0h0M410.2 326.0h0M411.1 326.0h0M412.1 326.0h0M413.0 325.9h0M413.9 325.9h0M414.9 325.9h0M415.8 325.8h0M416.7 325.8h0M417.7 325.8h0M418.6 325.8h0M419.6 325.7h0M420.5 325.7h0M421.4 325.7h0M422.4 325.6h0M423.3 325.6h0M424.2 325.6h0M425.2 325.5h0M426.1 325.5h0M427.0 325.4h0M428.0 325.4h0M428.9 325.4h0M429.8 325.3h0M430.8 325.3h0M431.7 325.2h0M432.6 325.2h0M433.6 325.2h0M434.5 325.1h0M435.5 325.1h0M436.4 325.0h0M437.3 325.0h0M438.3 324.9h0M439.2 324.9h0M440.1 324.8h0M441.1 324.8h0M442.0 324.7h0M442.9 324.7h0M443.9 324.6h0M444.8 324.6h0M445.7 324.5h0M446.7 324.4h0M447.6 324.4h0M448.5 324.3h0M449.5 324.3h0M450.4 324.2h0M451.4 324.1h0M452.3 324.1h0M453.2 324.0h0M454.2 324.0h0M455.1 323.9h0M456.0 323.8h0M457.0 323.7h0M457.9 323.7h0M458.8 323.6h0M459.8 323.5h0M460.7 323.5h0M461.6 323.4h0M462.6 323.3h0M463.5 323.2h0M464.4 323.2h0M465.4 323.1h0M466.3 323.0h0M467.3 322.9h0M468.2 322.8h0M469.1 322.7h0M470.1 322.7h0M471.0 322.6h0M471.9 322.5h0M472.9 322.4h0M473.8 322.3h0M474.7 322.2h0M475.7 322.1h0M476.6 322.0h0M477.5 321.9h0M478.5 321.8h0M479.4 321.7h0M480.3 321.6h0M481.3 321.5h0M482.2 321.4h0M483.2 321.3h0M484.1 321.2h0M485.0 321.1h0M486.0 321.0h0M486.9 320.9h0M487.8 320.7h0M488.8 320.6h0M489.7 320.5h0M490.6 320.4h0M491.6 320.3h0M492.5 320.2h0M493.4 320.0h0M494.4 319.9h0M495.3 319.8h0M496.2 319.7h0M497.2 319.5h0M498.1 319.4h0M499.1 319.3h0M500.0 319.1h0M500.9 319.0h0M501.9 318.8h0M502.8 318.7h0M503.7 318.6h0M504.7 318.4h0M505.6 318.3h0M506.5 318.1h0M507.5 318.0h0M508.4 317.8h0M509.3 317.7h0M510.3 317.5h0M511.2 317.3h0M512.1 317.2h0M513.1 317.0h0M514.0 316.9h0M515.0 316.7h0M515.9 316.5h0M516.8 316.4h0M517.8 316.2h0M518.7 316.0h0M519.6 315.8h0M520.6 315.7h0M521.5 315.5h0M522.4 315.3h0M523.4 315.1h0M524.3 314.9h0M525.2 314.7h0M526.2 314.5h0M527.1 314.3h0M528.0 314.1h0M529.0 313.9h0M529.9 313.7h0M530.9 313.5h0M531.8 313.3h0M532.7 313.1h0M533.7 312.9h0M534.6 312.7h0M535.5 312.5h0M536.5 312.3h0M537.4 312.0h0M538.3 311.8h0M539.3 311.6h0M540.2 311.4h0M541.1 311.2h0M542.1 310.9h0M543.0 310.7h0M543.9 310.5h0M544.9 310.2h0M545.8 310.0h0M546.8 309.8h0M547.7 309.5h0M548.6 309.3h0M549.6 309.1h0M550.5 308.8h0M551.4 308.6h0M552.4 308.4h0M553.3 308.1h0M554.2 307.9h0M555.2 307.6h0M556.1 307.4h0M557.0 307.2h0M558.0 306.9h0M558.9 306.7h0M559.8 306.4h0M560.8 306.2h0M561.7 306.0h0M562.7 305.7h0M563.6 305.5h0M564.5 305.2h0M565.5 305.0h0M566.4 304.7h0M567.3 304.5h0M568.3 304.3h0M569.2 304.0h0M570.1 303.8h0M571.1 303.6h0M572.0 303.3h0M572.9 303.1h0M573.9 302.9h0M574.8 302.7h0M575.7 302.5h0M576.7 302.2h0M577.6 302.0h0M578.6 301.8h0M579.5 301.6h0M580.4 301.4h0M581.4 301.3h0M582.3 301.1h0M583.2 300.9h0M584.2 300.7h0M585.1 300.6h0M586.0 300.4h0M587.0 300.3h0M587.9 300.2h0M588.8 300.0h0M589.8 299.9h0M590.7 299.8h0M591.6 299.7h0M592.6 299.7h0M593.5 299.6h0M594.5 299.5h0M595.4 299.5h0M596.3 299.5h0M597.3 299.4h0M598.2 299.4h0M599.1 299.5h0M600.1 299.5h0M601.0 299.6h0M601.9 299.6h0M602.9 299.7h0M603.8 299.8h0M604.7 300.0h0M605.7 300.2h0M606.6 300.3h0M607.5 300.6h0M608.5 300.8h0M609.4 301.1h0M610.4 301.4h0M611.3 301.7h0M612.2 302.1h0M613.2 302.5h0M614.1 302.9h0M615.0 303.4h0M616.0 303.9h0M616.9 304.5h0M617.8 305.1h0M618.8 305.7h0M619.7 306.4h0M620.6 307.2h0M621.6 308.0h0M622.5 308.9h0M623.4 309.8h0M624.4 310.8h0M625.3 311.9h0M626.3 313.1h0M627.2 314.4h0M628.1 315.8h0M629.1 317.3h0M630.0 318.9h0M630.9 320.6h0M631.9 322.3h0M632.8 324.1h0M633.7 325.8h0M634.7 327.6h0M635.6 329.4h0M636.5 331.3h0M637.5 333.3h0M638.4 335.5h0M639.3 337.8h0M640.3 340.3h0M641.2 343.0h0M642.2 345.8h0M643.1 348.7h0M644.0 351.8h0M645.0 355.1h0M645.9 358.6h0M646.8 362.0h0M647.8 365.8h0M648.7 369.5h0M649.6 373.3h0M650.6 377.4h0M651.5 381.8h0M652.4 386.1h0M653.4 390.8h0M654.3 395.6h0M655.2 400.4h0M656.2 405.8h0M657.1 411.8h0M658.1 418.1h0M659.0 425.6h0" stroke="#800080" stroke-width="2.9" stroke-linecap="round" fill="none"/>
<path d="M89.50 443.05V314.2" stroke="#800080" stroke-width="1.0" stroke-dasharray="5.4 3.13" fill="none"/><path d="M620.40 443.05V307.0" stroke="#800080" stroke-width="1.0" stroke-dasharray="5.4 3.13" fill="none"/>
<path d="M44.5 339.7h0M45.4 339.7h0M46.4 339.8h0M47.3 339.8h0M48.2 339.9h0M49.2 339.9h0M50.1 340.0h0M51.0 340.0h0M52.0 340.1h0M52.9 340.1h0M53.9 340.2h0M54.8 340.2h0M55.7 340.3h0M56.7 340.3h0M57.6 340.4h0M58.5 340.4h0M59.5 340.5h0M60.4 340.5h0M61.3 340.6h0M62.3 340.6h0M63.2 340.7h0M64.1 340.7h0M65.1 340.8h0M66.0 340.8h0M66.9 340.9h0M67.9 340.9h0M68.8 341.0h0M69.8 341.0h0M70.7 341.1h0M71.6 341.1h0M72.6 341.2h0M73.5 341.2h0M74.4 341.3h0M75.4 341.3h0M76.3 341.4h0M77.2 341.4h0M78.2 341.5h0M79.1 341.5h0M80.0 341.6h0M81.0 341.7h0M81.9 341.7h0M82.8 341.8h0M83.8 341.8h0M84.7 341.9h0M85.7 341.9h0M86.6 342.0h0M87.5 342.0h0M88.5 342.1h0M89.4 342.1h0M90.3 342.2h0M91.3 342.2h0M92.2 342.3h0M93.1 342.3h0M94.1 342.4h0M95.0 342.4h0M95.9 342.5h0M96.9 342.5h0M97.8 342.6h0M98.7 342.6h0M99.7 342.7h0M100.6 342.8h0M101.6 342.8h0M102.5 342.9h0M103.4 342.9h0M104.4 343.0h0M105.3 343.0h0M106.2 343.1h0M107.2 343.1h0M108.1 343.2h0M109.0 343.2h0M110.0 343.3h0M110.9 343.3h0M111.8 343.4h0M112.8 343.4h0M113.7 343.5h0M114.6 343.5h0M115.6 343.6h0M116.5 343.7h0M117.5 343.7h0M118.4 343.8h0M119.3 343.8h0M120.3 343.9h0M121.2 343.9h0M122.1 344.0h0M123.1 344.0h0M124.0 344.1h0M124.9 344.1h0M125.9 344.2h0M126.8 344.2h0M127.7 344.3h0M128.7 344.3h0M129.6 344.4h0M130.5 344.4h0M131.5 344.5h0M132.4 344.5h0M133.4 344.6h0M134.3 344.7h0M135.2 344.7h0M136.2 344.8h0M137.1 344.8h0M138.0 344.9h0M139.0 344.9h0M139.9 345.0h0M140.8 345.0h0M141.8 345.1h0M142.7 345.1h0M143.6 345.2h0M144.6 345.2h0M145.5 345.3h0M146.4 345.3h0M147.4 345.4h0M148.3 345.4h0M149.3 345.5h0M150.2 345.5h0M151.1 345.6h0M152.1 345.6h0M153.0 345.7h0M153.9 345.8h0M154.9 345.8h0M155.8 345.9h0M156.7 345.9h0M157.7 346.0h0M158.6 346.0h0M159.5 346.1h0M160.5 346.1h0M161.4 346.2h0M162.3 346.2h0M163.3 346.3h0M164.2 346.3h0M165.2 346.4h0M166.1 346.4h0M167.0 346.5h0M168.0 346.5h0M168.9 346.6h0M169.8 346.6h0M170.8 346.7h0M171.7 346.7h0M172.6 346.8h0M173.6 346.8h0M174.5 346.9h0M175.4 346.9h0M176.4 347.0h0M177.3 347.0h0M178.2 347.1h0M179.2 347.1h0M180.1 347.2h0M181.1 347.2h0M182.0 347.3h0M182.9 347.3h0M183.9 347.4h0M184.8 347.4h0M185.7 347.5h0M186.7 347.5h0M187.6 347.6h0M188.5 347.6h0M189.5 347.7h0M190.4 347.7h0M191.3 347.8h0M192.3 347.8h0M193.2 347.9h0M194.1 347.9h0M195.1 347.9h0M196.0 348.0h0M197.0 348.0h0M197.9 348.1h0M198.8 348.1h0M199.8 348.2h0M200.7 348.2h0M201.6 348.3h0M202.6 348.3h0M203.5 348.4h0M204.4 348.4h0M205.4 348.5h0M206.3 348.5h0M207.2 348.6h0M208.2 348.6h0M209.1 348.6h0M210.0 348.7h0M211.0 348.7h0M211.9 348.8h0M212.9 348.8h0M213.8 348.9h0M214.7 348.9h0M215.7 349.0h0M216.6 349.0h0M217.5 349.0h0M218.5 349.1h0M219.4 349.1h0M220.3 349.2h0M221.3 349.2h0M222.2 349.3h0M223.1 349.3h0M224.1 349.4h0M225.0 349.4h0M225.9 349.4h0M226.9 349.5h0M227.8 349.5h0M228.8 349.6h0M229.7 349.6h0M230.6 349.7h0M231.6 349.7h0M232.5 349.7h0M233.4 349.8h0M234.4 349.8h0M235.3 349.9h0M236.2 349.9h0M237.2 349.9h0M238.1 350.0h0M239.0 350.0h0M240.0 350.1h0M240.9 350.1h0M241.8 350.1h0M242.8 350.2h0M243.7 350.2h0M244.7 350.3h0M245.6 350.3h0M246.5 350.3h0M247.5 350.4h0M248.4 350.4h0M249.3 350.4h0M250.3 350.5h0M251.2 350.5h0M252.1 350.6h0M253.1 350.6h0M254.0 350.6h0M254.9 350.7h0M255.9 350.7h0M256.8 350.7h0M257.7 350.8h0M258.7 350.8h0M259.6 350.8h0M260.6 350.9h0M261.5 350.9h0M262.4 351.0h0M263.4 351.0h0M264.3 351.0h0M265.2 351.1h0M266.2 351.1h0M267.1 351.1h0M268.0 351.2h0M269.0 351.2h0M269.9 351.2h0M270.8 351.3h0M271.8 351.3h0M272.7 351.3h0M273.6 351.4h0M274.6 351.4h0M275.5 351.4h0M276.5 351.4h0M277.4 351.5h0M278.3 351.5h0M279.3 351.5h0M280.2 351.6h0M281.1 351.6h0M282.1 351.6h0M283.0 351.7h0M283.9 351.7h0M284.9 351.7h0M285.8 351.7h0M286.7 351.8h0M287.7 351.8h0M288.6 351.8h0M289.5 351.9h0M290.5 351.9h0M291.4 351.9h0M292.4 351.9h0M293.3 352.0h0M294.2 352.0h0M295.2 352.0h0M296.1 352.0h0M297.0 352.1h0M298.0 352.1h0M298.9 352.1h0M299.8 352.1h0M300.8 352.2h0M301.7 352.2h0M302.6 352.2h0M303.6 352.2h0M304.5 352.3h0M305.4 352.3h0M306.4 352.3h0M307.3 352.3h0M308.3 352.4h0M309.2 352.4h0M310.1 352.4h0M311.1 352.4h0M312.0 352.4h0M312.9 352.5h0M313.9 352.5h0M314.8 352.5h0M315.7 352.5h0M316.7 352.5h0M317.6 352.6h0M318.5 352.6h0M319.5 352.6h0M320.4 352.6h0M321.3 352.6h0M322.3 352.6h0M323.2 352.7h0M324.2 352.7h0M325.1 352.7h0M326.0 352.7h0M327.0 352.7h0M327.9 352.7h0M328.8 352.8h0M329.8 352.8h0M330.7 352.8h0M331.6 352.8h0M332.6 352.8h0M333.5 352.8h0M334.4 352.8h0M335.4 352.9h0M336.3 352.9h0M337.2 352.9h0M338.2 352.9h0M339.1 352.9h0M340.1 352.9h0M341.0 352.9h0M341.9 352.9h0M342.9 352.9h0M343.8 353.0h0M344.7 353.0h0M345.7 353.0h0M346.6 353.0h0M347.5 353.0h0M348.5 353.0h0M349.4 353.0h0M350.3 353.0h0M351.3 353.0h0M352.2 353.0h0M353.1 353.0h0M354.1 353.0h0M355.0 353.0h0M356.0 353.0h0M356.9 353.1h0M357.8 353.1h0M358.8 353.1h0M359.7 353.1h0M360.6 353.1h0M361.6 353.1h0M362.5 353.1h0M363.4 353.1h0M364.4 353.1h0M365.3 353.1h0M366.2 353.1h0M367.2 353.1h0M368.1 353.1h0M369.0 353.1h0M370.0 353.1h0M370.9 353.1h0M371.9 353.1h0M372.8 353.1h0M373.7 353.1h0M374.7 353.1h0M375.6 353.1h0M376.5 353.1h0M377.5 353.1h0M378.4 353.1h0M379.3 353.1h0M380.3 353.0h0M381.2 353.0h0M382.1 353.0h0M383.1 353.0h0M384.0 353.0h0M384.9 353.0h0M385.9 353.0h0M386.8 353.0h0M387.8 353.0h0M388.7 353.0h0M389.6 353.0h0M390.6 353.0h0M391.5 353.0h0M392.4 352.9h0M393.4 352.9h0M394.3 352.9h0M395.2 352.9h0M396.2 352.9h0M397.1 352.9h0M398.0 352.9h0M399.0 352.9h0M399.9 352.9h0M400.8 352.8h0M401.8 352.8h0M402.7 352.8h0M403.7 352.8h0M404.6 352.8h0M405.5 352.8h0M406.5 352.7h0M407.4 352.7h0M408.3 352.7h0M409.3 352.7h0M410.2 352.7h0M411.1 352.7h0M412.1 352.6h0M413.0 352.6h0M413.9 352.6h0M414.9 352.6h0M415.8 352.6h0M416.7 352.5h0M417.7 352.5h0M418.6 352.5h0M419.6 352.5h0M420.5 352.4h0M421.4 352.4h0M422.4 352.4h0M423.3 352.4h0M424.2 352.3h0M425.2 352.3h0M426.1 352.3h0M427.0 352.3h0M428.0 352.2h0M428.9 352.2h0M429.8 352.2h0M430.8 352.2h0M431.7 352.1h0M432.6 352.1h0M433.6 352.1h0M434.5 352.0h0M435.5 352.0h0M436.4 352.0h0M437.3 351.9h0M438.3 351.9h0M439.2 351.9h0M440.1 351.8h0M441.1 351.8h0M442.0 351.7h0M442.9 351.7h0M443.9 351.7h0M444.8 351.6h0M445.7 351.6h0M446.7 351.5h0M447.6 351.5h0M448.5 351.4h0M449.5 351.4h0M450.4 351.4h0M451.4 351.3h0M452.3 351.3h0M453.2 351.2h0M454.2 351.2h0M455.1 351.1h0M456.0 351.0h0M457.0 351.0h0M457.9 350.9h0M458.8 350.9h0M459.8 350.8h0M460.7 350.8h0M461.6 350.7h0M462.6 350.6h0M463.5 350.6h0M464.4 350.5h0M465.4 350.4h0M466.3 350.4h0M467.3 350.3h0M468.2 350.2h0M469.1 350.2h0M470.1 350.1h0M471.0 350.0h0M471.9 349.9h0M472.9 349.9h0M473.8 349.8h0M474.7 349.7h0M475.7 349.6h0M476.6 349.5h0M477.5 349.4h0M478.5 349.4h0M479.4 349.3h0M480.3 349.2h0M481.3 349.1h0M482.2 349.0h0M483.2 348.9h0M484.1 348.8h0M485.0 348.7h0M486.0 348.6h0M486.9 348.5h0M487.8 348.4h0M488.8 348.3h0M489.7 348.2h0M490.6 348.1h0M491.6 348.0h0M492.5 347.8h0M493.4 347.7h0M494.4 347.6h0M495.3 347.5h0M496.2 347.4h0M497.2 347.3h0M498.1 347.1h0M499.1 347.0h0M500.0 346.9h0M500.9 346.8h0M501.9 346.7h0M502.8 346.5h0M503.7 346.4h0M504.7 346.3h0M505.6 346.2h0M506.5 346.0h0M507.5 345.9h0M508.4 345.8h0M509.3 345.6h0M510.3 345.5h0M511.2 345.4h0M512.1 345.2h0M513.1 345.1h0M514.0 344.9h0M515.0 344.8h0M515.9 344.7h0M516.8 344.5h0M517.8 344.4h0M518.7 344.2h0M519.6 344.1h0M520.6 343.9h0M521.5 343.8h0M522.4 343.7h0M523.4 343.5h0M524.3 343.4h0M525.2 343.2h0M526.2 343.1h0M527.1 342.9h0M528.0 342.8h0M529.0 342.6h0M529.9 342.5h0M530.9 342.3h0M531.8 342.2h0M532.7 342.0h0M533.7 341.8h0M534.6 341.7h0M535.5 341.5h0M536.5 341.4h0M537.4 341.2h0M538.3 341.1h0M539.3 340.9h0M540.2 340.7h0M541.1 340.6h0M542.1 340.4h0M543.0 340.3h0M543.9 340.1h0M544.9 340.0h0M545.8 339.8h0M546.8 339.6h0M547.7 339.5h0M548.6 339.3h0M549.6 339.2h0M550.5 339.0h0M551.4 338.8h0M552.4 338.7h0M553.3 338.5h0M554.2 338.3h0M555.2 338.2h0M556.1 338.0h0M557.0 337.9h0M558.0 337.7h0M558.9 337.5h0M559.8 337.4h0M560.8 337.2h0M561.7 337.1h0M562.7 336.9h0M563.6 336.7h0M564.5 336.6h0M565.5 336.4h0M566.4 336.3h0M567.3 336.1h0M568.3 335.9h0M569.2 335.8h0M570.1 335.6h0M571.1 335.5h0M572.0 335.3h0M572.9 335.2h0M573.9 335.0h0M574.8 334.9h0M575.7 334.7h0M576.7 334.6h0M577.6 334.5h0M578.6 334.4h0M579.5 334.2h0M580.4 334.1h0M581.4 334.0h0M582.3 333.9h0M583.2 333.8h0M584.2 333.7h0M585.1 333.6h0M586.0 333.6h0M587.0 333.5h0M587.9 333.4h0M588.8 333.4h0M589.8 333.4h0M590.7 333.3h0M591.6 333.3h0M592.6 333.3h0M593.5 333.3h0M594.5 333.3h0M595.4 333.3h0M596.3 333.4h0M597.3 333.4h0M598.2 333.5h0M599.1 333.6h0M600.1 333.7h0M601.0 333.8h0M601.9 334.0h0M602.9 334.1h0M603.8 334.3h0M604.7 334.5h0M605.7 334.8h0M606.6 335.0h0M607.5 335.3h0M608.5 335.6h0M609.4 335.9h0M610.4 336.2h0M611.3 336.6h0M612.2 336.9h0M613.2 337.3h0M614.1 337.7h0M615.0 338.0h0M616.0 338.5h0M616.9 338.9h0M617.8 339.4h0M618.8 339.9h0M619.7 340.4h0M620.6 341.0h0M621.6 341.7h0M622.5 342.5h0M623.4 343.3h0M624.4 344.2h0M625.3 345.1h0M626.3 346.1h0M627.2 347.2h0M628.1 348.3h0M629.1 349.4h0M630.0 350.6h0M630.9 351.8h0M631.9 353.0h0M632.8 354.3h0M633.7 355.7h0M634.7 357.1h0M635.6 358.7h0M636.5 360.4h0M637.5 362.2h0M638.4 364.2h0M639.3 366.3h0M640.3 368.5h0M641.2 370.7h0M642.2 373.0h0M643.1 375.3h0M644.0 377.7h0M645.0 380.0h0M645.9 382.5h0M646.8 385.0h0M647.8 387.6h0M648.7 390.3h0M649.6 393.2h0M650.6 396.1h0M651.5 399.6h0M652.4 402.9h0M653.4 406.6h0M654.3 410.5h0M655.2 414.5h0M656.2 418.6h0M657.1 423.5h0M658.1 428.7h0M659.0 434.6h0" stroke="#000000" stroke-width="2.9" stroke-linecap="round" fill="none"/>
<path d="M13.6 362.7h0M14.6 362.8h0M15.5 362.8h0M16.4 362.9h0M17.4 362.9h0M18.3 363.0h0M19.2 363.0h0M20.2 363.1h0M21.1 363.2h0M22.1 363.2h0M23.0 363.3h0M23.9 363.3h0M24.9 363.4h0M25.8 363.4h0M26.7 363.5h0M27.7 363.5h0M28.6 363.6h0M29.5 363.6h0M30.5 363.7h0M31.4 363.7h0M32.3 363.8h0M33.3 363.8h0M34.2 363.9h0M35.1 363.9h0M36.1 364.0h0M37.0 364.0h0M38.0 364.1h0M38.9 364.1h0M39.8 364.2h0M40.8 364.2h0M41.7 364.3h0M42.6 364.3h0M43.6 364.4h0M44.5 364.4h0M45.4 364.5h0M46.4 364.5h0M47.3 364.6h0M48.2 364.7h0M49.2 364.7h0M50.1 364.8h0M51.0 364.8h0M52.0 364.9h0M52.9 364.9h0M53.9 365.0h0M54.8 365.0h0M55.7 365.1h0M56.7 365.1h0M57.6 365.2h0M58.5 365.2h0M59.5 365.3h0M60.4 365.3h0M61.3 365.4h0M62.3 365.4h0M63.2 365.5h0M64.1 365.5h0M65.1 365.6h0M66.0 365.6h0M66.9 365.7h0M67.9 365.7h0M68.8 365.8h0M69.8 365.8h0M70.7 365.8h0M71.6 365.9h0M72.6 365.9h0M73.5 366.0h0M74.4 366.0h0M75.4 366.1h0M76.3 366.1h0M77.2 366.2h0M78.2 366.2h0M79.1 366.3h0M80.0 366.3h0M81.0 366.4h0M81.9 366.4h0M82.8 366.5h0M83.8 366.5h0M84.7 366.6h0M85.7 366.6h0M86.6 366.7h0M87.5 366.7h0M88.5 366.8h0M89.4 366.8h0M90.3 366.9h0M91.3 366.9h0M92.2 367.0h0M93.1 367.0h0M94.1 367.1h0M95.0 367.1h0M95.9 367.2h0M96.9 367.2h0M97.8 367.2h0M98.7 367.3h0M99.7 367.3h0M100.6 367.4h0M101.6 367.4h0M102.5 367.5h0M103.4 367.5h0M104.4 367.6h0M105.3 367.6h0M106.2 367.7h0M107.2 367.7h0M108.1 367.8h0M109.0 367.8h0M110.0 367.9h0M110.9 367.9h0M111.8 367.9h0M112.8 368.0h0M113.7 368.0h0M114.6 368.1h0M115.6 368.1h0M116.5 368.2h0M117.5 368.2h0M118.4 368.3h0M119.3 368.3h0M120.3 368.4h0M121.2 368.4h0M122.1 368.4h0M123.1 368.5h0M124.0 368.5h0M124.9 368.6h0M125.9 368.6h0M126.8 368.7h0M127.7 368.7h0M128.7 368.8h0M129.6 368.8h0M130.5 368.8h0M131.5 368.9h0M132.4 368.9h0M133.4 369.0h0M134.3 369.0h0M135.2 369.1h0M136.2 369.1h0M137.1 369.2h0M138.0 369.2h0M139.0 369.2h0M139.9 369.3h0M140.8 369.3h0M141.8 369.4h0M142.7 369.4h0M143.6 369.5h0M144.6 369.5h0M145.5 369.6h0M146.4 369.6h0M147.4 369.6h0M148.3 369.7h0M149.3 369.7h0M150.2 369.8h0M151.1 369.8h0M152.1 369.9h0M153.0 369.9h0M153.9 369.9h0M154.9 370.0h0M155.8 370.0h0M156.7 370.1h0M157.7 370.1h0M158.6 370.1h0M159.5 370.2h0M160.5 370.2h0M161.4 370.3h0M162.3 370.3h0M163.3 370.4h0M164.2 370.4h0M165.2 370.4h0M166.1 370.5h0M167.0 370.5h0M168.0 370.6h0M168.9 370.6h0M169.8 370.6h0M170.8 370.7h0M171.7 370.7h0M172.6 370.8h0M173.6 370.8h0M174.5 370.8h0M175.4 370.9h0M176.4 370.9h0M177.3 371.0h0M178.2 371.0h0M179.2 371.1h0M180.1 371.1h0M181.1 371.1h0M182.0 371.2h0M182.9 371.2h0M183.9 371.3h0M184.8 371.3h0M185.7 371.3h0M186.7 371.4h0M187.6 371.4h0M188.5 371.4h0M189.5 371.5h0M190.4 371.5h0M191.3 371.6h0M192.3 371.6h0M193.2 371.6h0M194.1 371.7h0M195.1 371.7h0M196.0 371.8h0M197.0 371.8h0M197.9 371.8h0M198.8 371.9h0M199.8 371.9h0M200.7 372.0h0M201.6 372.0h0M202.6 372.0h0M203.5 372.1h0M204.4 372.1h0M205.4 372.1h0M206.3 372.2h0M207.2 372.2h0M208.2 372.3h0M209.1 372.3h0M210.0 372.3h0M211.0 372.4h0M211.9 372.4h0M212.9 372.4h0M213.8 372.5h0M214.7 372.5h0M215.7 372.5h0M216.6 372.6h0M217.5 372.6h0M218.5 372.7h0M219.4 372.7h0M220.3 372.7h0M221.3 372.8h0M222.2 372.8h0M223.1 372.8h0M224.1 372.9h0M225.0 372.9h0M225.9 372.9h0M226.9 373.0h0M227.8 373.0h0M228.8 373.1h0M229.7 373.1h0M230.6 373.1h0M231.6 373.2h0M232.5 373.2h0M233.4 373.2h0M234.4 373.3h0M235.3 373.3h0M236.2 373.3h0M237.2 373.4h0M238.1 373.4h0M239.0 373.4h0M240.0 373.5h0M240.9 373.5h0M241.8 373.5h0M242.8 373.6h0M243.7 373.6h0M244.7 373.6h0M245.6 373.7h0M246.5 373.7h0M247.5 373.7h0M248.4 373.8h0M249.3 373.8h0M250.3 373.8h0M251.2 373.9h0M252.1 373.9h0M253.1 373.9h0M254.0 374.0h0M254.9 374.0h0M255.9 374.0h0M256.8 374.1h0M257.7 374.1h0M258.7 374.1h0M259.6 374.2h0M260.6 374.2h0M261.5 374.2h0M262.4 374.3h0M263.4 374.3h0M264.3 374.3h0M265.2 374.3h0M266.2 374.4h0M267.1 374.4h0M268.0 374.4h0M269.0 374.5h0M269.9 374.5h0M270.8 374.5h0M271.8 374.6h0M272.7 374.6h0M273.6 374.6h0M274.6 374.7h0M275.5 374.7h0M276.5 374.7h0M277.4 374.7h0M278.3 374.8h0M279.3 374.8h0M280.2 374.8h0M281.1 374.9h0M282.1 374.9h0M283.0 374.9h0M283.9 374.9h0M284.9 375.0h0M285.8 375.0h0M286.7 375.0h0M287.7 375.1h0M288.6 375.1h0M289.5 375.1h0M290.5 375.1h0M291.4 375.2h0M292.4 375.2h0M293.3 375.2h0M294.2 375.2h0M295.2 375.3h0M296.1 375.3h0M297.0 375.3h0M298.0 375.3h0M298.9 375.4h0M299.8 375.4h0M300.8 375.4h0M301.7 375.4h0M302.6 375.5h0M303.6 375.5h0M304.5 375.5h0M305.4 375.5h0M306.4 375.6h0M307.3 375.6h0M308.3 375.6h0M309.2 375.6h0M310.1 375.7h0M311.1 375.7h0M312.0 375.7h0M312.9 375.7h0M313.9 375.7h0M314.8 375.8h0M315.7 375.8h0M316.7 375.8h0M317.6 375.8h0M318.5 375.8h0M319.5 375.9h0M320.4 375.9h0M321.3 375.9h0M322.3 375.9h0M323.2 375.9h0M324.2 376.0h0M325.1 376.0h0M326.0 376.0h0M327.0 376.0h0M327.9 376.0h0M328.8 376.0h0M329.8 376.1h0M330.7 376.1h0M331.6 376.1h0M332.6 376.1h0M333.5 376.1h0M334.4 376.1h0M335.4 376.2h0M336.3 376.2h0M337.2 376.2h0M338.2 376.2h0M339.1 376.2h0M340.1 376.2h0M341.0 376.2h0M341.9 376.3h0M342.9 376.3h0M343.8 376.3h0M344.7 376.3h0M345.7 376.3h0M346.6 376.3h0M347.5 376.3h0M348.5 376.3h0M349.4 376.4h0M350.3 376.4h0M351.3 376.4h0M352.2 376.4h0M353.1 376.4h0M354.1 376.4h0M355.0 376.4h0M356.0 376.4h0M356.9 376.4h0M357.8 376.4h0M358.8 376.4h0M359.7 376.5h0M360.6 376.5h0M361.6 376.5h0M362.5 376.5h0M363.4 376.5h0M364.4 376.5h0M365.3 376.5h0M366.2 376.5h0M367.2 376.5h0M368.1 376.5h0M369.0 376.5h0M370.0 376.5h0M370.9 376.5h0M371.9 376.5h0M372.8 376.5h0M373.7 376.5h0M374.7 376.5h0M375.6 376.5h0M376.5 376.5h0M377.5 376.5h0M378.4 376.5h0M379.3 376.5h0M380.3 376.5h0M381.2 376.5h0M382.1 376.5h0M383.1 376.5h0M384.0 376.5h0M384.9 376.5h0M385.9 376.5h0M386.8 376.5h0M387.8 376.5h0M388.7 376.5h0M389.6 376.5h0M390.6 376.5h0M391.5 376.5h0M392.4 376.5h0M393.4 376.5h0M394.3 376.5h0M395.2 376.5h0M396.2 376.4h0M397.1 376.4h0M398.0 376.4h0M399.0 376.4h0M399.9 376.4h0M400.8 376.4h0M401.8 376.4h0M402.7 376.4h0M403.7 376.4h0M404.6 376.4h0M405.5 376.3h0M406.5 376.3h0M407.4 376.3h0M408.3 376.3h0M409.3 376.3h0M410.2 376.3h0M411.1 376.3h0M412.1 376.3h0M413.0 376.2h0M413.9 376.2h0M414.9 376.2h0M415.8 376.2h0M416.7 376.2h0M417.7 376.2h0M418.6 376.1h0M419.6 376.1h0M420.5 376.1h0M421.4 376.1h0M422.4 376.1h0M423.3 376.0h0M424.2 376.0h0M425.2 376.0h0M426.1 376.0h0M427.0 375.9h0M428.0 375.9h0M428.9 375.9h0M429.8 375.9h0M430.8 375.8h0M431.7 375.8h0M432.6 375.8h0M433.6 375.8h0M434.5 375.7h0M435.5 375.7h0M436.4 375.7h0M437.3 375.7h0M438.3 375.6h0M439.2 375.6h0M440.1 375.6h0M441.1 375.5h0M442.0 375.5h0M442.9 375.5h0M443.9 375.4h0M444.8 375.4h0M445.7 375.3h0M446.7 375.3h0M447.6 375.3h0M448.5 375.2h0M449.5 375.2h0M450.4 375.1h0M451.4 375.1h0M452.3 375.1h0M453.2 375.0h0M454.2 375.0h0M455.1 374.9h0M456.0 374.9h0M457.0 374.8h0M457.9 374.8h0M458.8 374.7h0M459.8 374.7h0M460.7 374.6h0M461.6 374.6h0M462.6 374.5h0M463.5 374.4h0M464.4 374.4h0M465.4 374.3h0M466.3 374.3h0M467.3 374.2h0M468.2 374.1h0M469.1 374.1h0M470.1 374.0h0M471.0 373.9h0M471.9 373.9h0M472.9 373.8h0M473.8 373.7h0M474.7 373.7h0M475.7 373.6h0M476.6 373.5h0M477.5 373.4h0M478.5 373.4h0M479.4 373.3h0M480.3 373.2h0M481.3 373.1h0M482.2 373.0h0M483.2 373.0h0M484.1 372.9h0M485.0 372.8h0M486.0 372.7h0M486.9 372.6h0M487.8 372.5h0M488.8 372.4h0M489.7 372.3h0M490.6 372.2h0M491.6 372.1h0M492.5 372.0h0M493.4 371.9h0M494.4 371.8h0M495.3 371.7h0M496.2 371.6h0M497.2 371.5h0M498.1 371.4h0M499.1 371.3h0M500.0 371.2h0M500.9 371.1h0M501.9 371.0h0M502.8 370.9h0M503.7 370.8h0M504.7 370.7h0M505.6 370.6h0M506.5 370.5h0M507.5 370.4h0M508.4 370.2h0M509.3 370.1h0M510.3 370.0h0M511.2 369.9h0M512.1 369.8h0M513.1 369.7h0M514.0 369.5h0M515.0 369.4h0M515.9 369.3h0M516.8 369.2h0M517.8 369.1h0M518.7 368.9h0M519.6 368.8h0M520.6 368.7h0M521.5 368.6h0M522.4 368.5h0M523.4 368.3h0M524.3 368.2h0M525.2 368.1h0M526.2 368.0h0M527.1 367.8h0M528.0 367.7h0M529.0 367.6h0M529.9 367.5h0M530.9 367.3h0M531.8 367.2h0M532.7 367.1h0M533.7 367.0h0M534.6 366.8h0M535.5 366.7h0M536.5 366.6h0M537.4 366.5h0M538.3 366.3h0M539.3 366.2h0M540.2 366.1h0M541.1 365.9h0M542.1 365.8h0M543.0 365.7h0M543.9 365.6h0M544.9 365.4h0M545.8 365.3h0M546.8 365.2h0M547.7 365.1h0M548.6 364.9h0M549.6 364.8h0M550.5 364.7h0M551.4 364.5h0M552.4 364.4h0M553.3 364.3h0M554.2 364.2h0M555.2 364.0h0M556.1 363.9h0M557.0 363.8h0M558.0 363.7h0M558.9 363.6h0M559.8 363.4h0M560.8 363.3h0M561.7 363.2h0M562.7 363.1h0M563.6 362.9h0M564.5 362.8h0M565.5 362.7h0M566.4 362.6h0M567.3 362.5h0M568.3 362.4h0M569.2 362.2h0M570.1 362.1h0M571.1 362.0h0M572.0 361.9h0M572.9 361.8h0M573.9 361.7h0M574.8 361.6h0M575.7 361.5h0M576.7 361.4h0M577.6 361.3h0M578.6 361.2h0M579.5 361.2h0M580.4 361.1h0M581.4 361.0h0M582.3 361.0h0M583.2 360.9h0M584.2 360.9h0M585.1 360.8h0M586.0 360.8h0M587.0 360.7h0M587.9 360.7h0M588.8 360.7h0M589.8 360.7h0M590.7 360.7h0M591.6 360.7h0M592.6 360.7h0M593.5 360.7h0M594.5 360.8h0M595.4 360.8h0M596.3 360.9h0M597.3 360.9h0M598.2 361.0h0M599.1 361.1h0M600.1 361.2h0M601.0 361.3h0M601.9 361.5h0M602.9 361.6h0M603.8 361.8h0M604.7 361.9h0M605.7 362.1h0M606.6 362.3h0M607.5 362.5h0M608.5 362.8h0M609.4 363.0h0M610.4 363.3h0M611.3 363.5h0M612.2 363.8h0M613.2 364.1h0M614.1 364.5h0M615.0 364.8h0M616.0 365.2h0M616.9 365.5h0M617.8 365.9h0M618.8 366.4h0M619.7 366.8h0M620.6 367.3h0M621.6 367.9h0M622.5 368.4h0M623.4 369.0h0M624.4 369.7h0M625.3 370.4h0M626.3 371.1h0M627.2 372.0h0M628.1 372.8h0M629.1 373.8h0M630.0 374.8h0M630.9 375.9h0M631.9 377.0h0M632.8 378.2h0M633.7 379.5h0M634.7 380.9h0M635.6 382.3h0M636.5 383.8h0M637.5 385.3h0M638.4 386.9h0M639.3 388.5h0M640.3 390.2h0M641.2 391.9h0M642.2 393.7h0M643.1 395.5h0M644.0 397.3h0M645.0 399.1h0M645.9 401.1h0M646.8 403.1h0M647.8 405.3h0M648.7 407.5h0M649.6 410.0h0M650.6 412.6h0M651.5 415.5h0M652.4 418.6h0M653.4 422.0h0M654.3 425.5h0M655.2 429.0h0M656.2 432.4h0M657.1 435.9h0M658.1 439.7h0M659.0 444.0h0" stroke="#996633" stroke-width="2.9" stroke-linecap="round" fill="none"/>
<path d="M61.50 443.05V340.6" stroke="#000000" stroke-width="1.0" stroke-dasharray="5.4 3.13" fill="none"/><path d="M631.50 443.05V352.5" stroke="#000000" stroke-width="1.0" stroke-dasharray="5.4 3.13" fill="none"/>
<path d="M33.30 443.05V363.8" stroke="#996633" stroke-width="1.0" stroke-dasharray="5.4 3.13" fill="none"/><path d="M638.90 443.05V387.7" stroke="#996633" stroke-width="1.0" stroke-dasharray="5.4 3.13" fill="none"/>
<path d="M32.85 440V444.5M61.05 440V444.5M89.05 440V444.5M135.95 440V444.5M182.55 440V444.5M248.05 440V444.5M509.95 440V444.5M566.05 440V444.5M603.35 440V444.5M659.67 440V444.5" stroke="#444" stroke-width="0.6" fill="none"/>
<circle cx="660.1" cy="441.2" r="1.35" fill="#fff" stroke="#e4e4e4" stroke-width="0.5"/>
</svg>
<div style="position:absolute;left:0;top:0;width:708px;height:461px;will-change:transform"><div class="t" style="left:-16.7px;width:100px;top:445.9px;font-size:12.2px;text-align:center">−0.42</div><div class="t" style="left:11.5px;width:100px;top:445.9px;font-size:12.2px;text-align:center">−0.39</div><div class="t" style="left:39.5px;width:100px;top:445.9px;font-size:12.2px;text-align:center">−0.36</div><div class="t" style="left:86.4px;width:100px;top:445.9px;font-size:12.2px;text-align:center">−0.31</div><div class="t" style="left:133.0px;width:100px;top:445.9px;font-size:12.2px;text-align:center">−0.26</div><div class="t" style="left:198.5px;width:100px;top:445.9px;font-size:12.2px;text-align:center">−0.19</div><div class="t" style="left:460.4px;width:100px;top:445.9px;font-size:12.2px;text-align:center">0.09</div><div class="t" style="left:516.5px;width:100px;top:448.7px;font-size:12.2px;text-align:center">0.15</div><div class="t" style="left:553.8px;width:100px;top:445.9px;font-size:12.2px;text-align:center">0.19</div><div class="t" style="left:610.1px;width:100px;top:448.7px;font-size:12.2px;text-align:center">0.25</div><div class="t" style="left:322.8px;width:100px;top:19.7px;font-size:14.5px;text-align:right">1.2</div><div class="t" style="left:322.8px;width:100px;top:89.1px;font-size:14.5px;text-align:right">1.1</div><div class="t" style="left:322.8px;width:100px;top:158.5px;font-size:14.5px;text-align:right">1.0</div><div class="t" style="left:322.8px;width:100px;top:227.9px;font-size:14.5px;text-align:right">0.9</div><div class="t" style="left:322.8px;width:100px;top:297.3px;font-size:14.5px;text-align:right">0.8</div><div class="t" style="left:322.8px;width:100px;top:366.7px;font-size:14.5px;text-align:right">0.7</div><div class="t" style="left:411.2px;top:3.1px;font-size:18.4px;transform:scaleX(0.86);transform-origin:0 0"><i>v</i></div><div class="t" style="left:417.9px;top:1.9px;font-size:12px">front</div><div class="t" style="left:681.3px;top:434.9px;font-size:17.8px">λ</div><div class="t" style="left:689.4px;top:441.6px;font-size:12.3px">GB</div></div>
</body></html>
